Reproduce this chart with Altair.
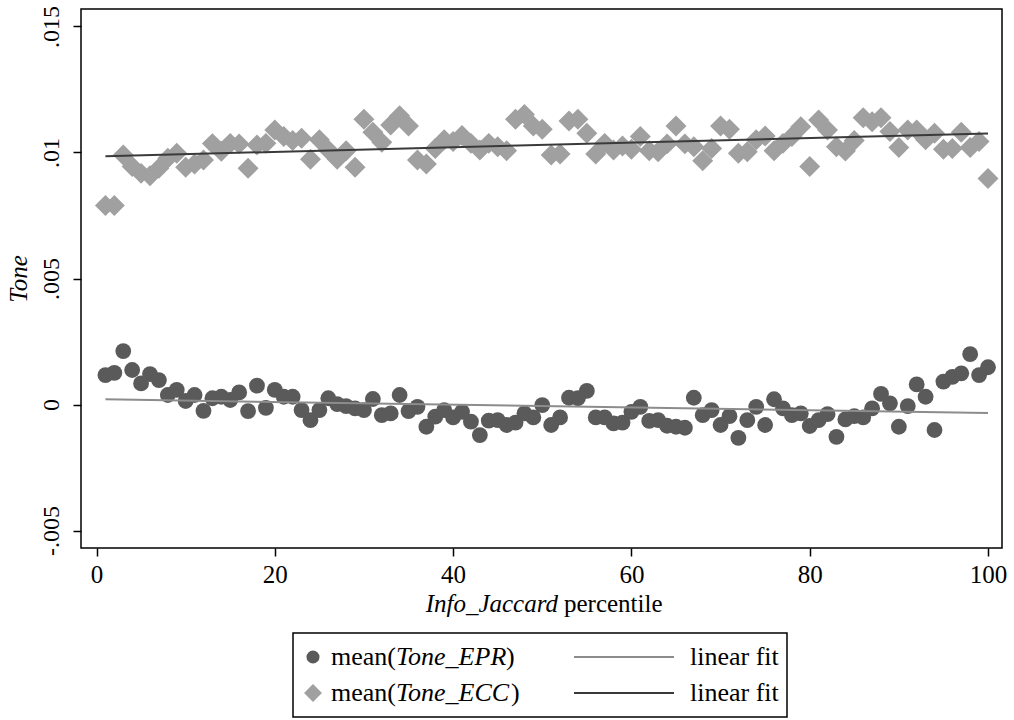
import altair as alt
import pandas as pd

percentile = list(range(1, 101))

tone_epr = [
    0.00117, 0.00126, 0.00212, 0.00137, 0.00084, 0.00121, 0.00097, 0.00038, 0.00058, 0.00014,
    0.00038, -0.00025, 0.00025, 0.00031, 0.00018, 0.00048, -0.00026, 0.00075, -0.00013, 0.00058,
    0.00031, 0.00031, -0.00022, -0.00062, -0.00022, 0.00025, 0.00002, -0.00006, -0.00015, -0.00022,
    0.00022, -0.00042, -0.00035, 0.00038, -0.00026, -0.00009, -0.00088, -0.00048, -0.00022, -0.00051,
    -0.00029, -0.00068, -0.00121, -0.00064, -0.00062, -0.00081, -0.00072, -0.00035, -0.00051, -0.00002,
    -0.00081, -0.00051, 0.00027, 0.00025, 0.00054, -0.00051, -0.00051, -0.00075, -0.00072, -0.00029,
    -0.00009, -0.00065, -0.00062, -0.00084, -0.00088, -0.00092, 0.00027, -0.00042, -0.00022, -0.00081,
    -0.00046, -0.00132, -0.00062, -0.00009, -0.00081, 0.00021, -0.00015, -0.00042, -0.00035, -0.00085,
    -0.00062, -0.00038, -0.00128, -0.00059, -0.00046, -0.00051, -0.00015, 0.00042, 0.00005, -0.00088,
    -0.00006, 0.00080, 0.00031, -0.00101, 0.00091, 0.00110, 0.00124, 0.00200, 0.00117, 0.00148,
]

tone_ecc = [
    0.00790, 0.00790, 0.00990, 0.00944, 0.00917, 0.00908, 0.00937, 0.00977, 0.00997, 0.00941,
    0.00954, 0.00970, 0.01035, 0.01005, 0.01036, 0.01034, 0.00937, 0.01030, 0.01036, 0.01089,
    0.01063, 0.01047, 0.01056, 0.00973, 0.01050, 0.01010, 0.00973, 0.01007, 0.00941, 0.01132,
    0.01080, 0.01040, 0.01109, 0.01146, 0.01105, 0.00970, 0.00954, 0.01016, 0.01050, 0.01043,
    0.01067, 0.01036, 0.01010, 0.01036, 0.01023, 0.01007, 0.01132, 0.01151, 0.01105, 0.01092,
    0.00990, 0.00994, 0.01125, 0.01132, 0.01076, 0.00994, 0.01036, 0.01010, 0.01026, 0.01013,
    0.01063, 0.01007, 0.01003, 0.01034, 0.01105, 0.01034, 0.01023, 0.00967, 0.01016, 0.01105,
    0.01092, 0.00997, 0.01003, 0.01050, 0.01065, 0.01007, 0.01036, 0.01063, 0.01102, 0.00944,
    0.01129, 0.01089, 0.01023, 0.01006, 0.01047, 0.01138, 0.01122, 0.01138, 0.01083, 0.01020,
    0.01089, 0.01089, 0.01050, 0.01076, 0.01013, 0.01016, 0.01080, 0.01020, 0.01043, 0.00897,
]

x_ticks = [0, 20, 40, 60, 80, 100]
y_ticks = [-0.005, 0, 0.005, 0.01, 0.015]
x_title_italic = "Info_Jaccard"
x_title_plain = "percentile"
y_title = "Tone"
legend_prefix = "mean("
legend_suffix = ")"
legend_series = ["Tone_EPR", "Tone_ECC"]
legend_fit = "linear fit"

FONT = "Liberation Serif"
FS_AX = 25
FS_LEG = 26
W, H = 921, 539
C_EPR = "#5a5a5a"
C_ECC = "#a0a0a0"
C_FIT_EPR = "#8c8c8c"
C_FIT_ECC = "#3a3a3a"

epr = pd.DataFrame({"pct": percentile, "tone": tone_epr})
ecc = pd.DataFrame({"pct": percentile, "tone": tone_ecc})

xs = alt.Scale(domain=[-1.74, 101.57], nice=False, zero=False)
ys = alt.Scale(domain=[-0.00569, 0.01569], nice=False, zero=False)

xax = alt.Axis(values=x_ticks, title=None, grid=False, domain=False, tickSize=8,
               tickWidth=1.5, tickColor="black", labelFont=FONT, labelFontSize=FS_AX,
               labelColor="black", labelPadding=6)
yax = alt.Axis(values=y_ticks, title=y_title, titleFont=FONT, titleFontSize=FS_AX,
               titleFontStyle="italic", titleFontWeight="normal", titleColor="black",
               titlePadding=8, grid=False, domain=False, tickSize=8, tickWidth=1.5,
               tickColor="black", labelFont=FONT, labelFontSize=24, labelColor="black",
               labelAngle=270, labelAlign="center", labelBaseline="bottom", labelPadding=10,
               labelExpr="datum.value == 0 ? '0' : (datum.value < 0 ? '-' : '') + replace(format(abs(datum.value), '.3~f'), '0.', '.')")

x = alt.X("pct:Q", scale=xs, axis=xax)
y = alt.Y("tone:Q", scale=ys, axis=yax)

pts_epr = alt.Chart(epr).mark_point(shape="circle", filled=True, size=250, color=C_EPR,
                                    opacity=1).encode(x=x, y=y)
pts_ecc = alt.Chart(ecc).mark_point(shape="diamond", filled=True, size=440, color=C_ECC,
                                    opacity=1).encode(x=x, y=y)
fit_epr = alt.Chart(epr).transform_regression("pct", "tone").mark_line(
    color=C_FIT_EPR, strokeWidth=2).encode(x="pct:Q", y="tone:Q")
fit_ecc = alt.Chart(ecc).transform_regression("pct", "tone").mark_line(
    color=C_FIT_ECC, strokeWidth=2).encode(x="pct:Q", y="tone:Q")

one = alt.Data(values=[{}])


def txt(s, px, py, size, align="left", style="normal", baseline="middle"):
    return alt.Chart(one).mark_text(align=align, baseline=baseline, font=FONT, fontSize=size,
                                    fontStyle=style, color="black").encode(
        x=alt.value(px), y=alt.value(py), text=alt.value(s))


# x-axis title (mixed italic / regular)
title_layers = [
    txt(x_title_italic, 477, 603, FS_AX, align="right", style="italic", baseline="alphabetic"),
    txt(x_title_plain, 483, 603, FS_AX, align="left", baseline="alphabetic"),
]

# legend
box = alt.Chart(one).mark_rect(fill="white", stroke="black", strokeWidth=1.5).encode(
    x=alt.value(212), x2=alt.value(706), y=alt.value(624), y2=alt.value(708))
rows = [648, 684]
leg = [box]
leg.append(alt.Chart(one).mark_point(shape="circle", filled=True, size=170, color=C_EPR,
                                     opacity=1).encode(x=alt.value(232), y=alt.value(rows[0])))
leg.append(alt.Chart(one).mark_point(shape="diamond", filled=True, size=320, color=C_ECC,
                                     opacity=1).encode(x=alt.value(232), y=alt.value(rows[1])))
suffix_x = [425, 430]
for r, name, sx in zip(rows, legend_series, suffix_x):
    leg.append(txt(legend_prefix, 250, r, FS_LEG))
    leg.append(txt(name, 315, r, FS_LEG, style="italic"))
    leg.append(txt(legend_suffix, sx, r, FS_LEG))
    leg.append(txt(legend_fit, 609, r, FS_LEG))
leg.append(alt.Chart(one).mark_rule(color=C_FIT_EPR, strokeWidth=2).encode(
    x=alt.value(493), x2=alt.value(593), y=alt.value(rows[0])))
leg.append(alt.Chart(one).mark_rule(color=C_FIT_ECC, strokeWidth=2).encode(
    x=alt.value(493), x2=alt.value(593), y=alt.value(rows[1])))

chart = alt.layer(pts_epr, pts_ecc, fit_epr, fit_ecc, *title_layers, *leg).properties(
    width=W, height=H,
    autosize=alt.AutoSizeParams(type="none"),
    padding={"left": 81, "top": 9, "right": 12, "bottom": 172},
    background="white",
).configure_view(stroke="black", strokeWidth=1.5)

chart.save("out.html", embed_options={"renderer": "svg", "actions": False})
